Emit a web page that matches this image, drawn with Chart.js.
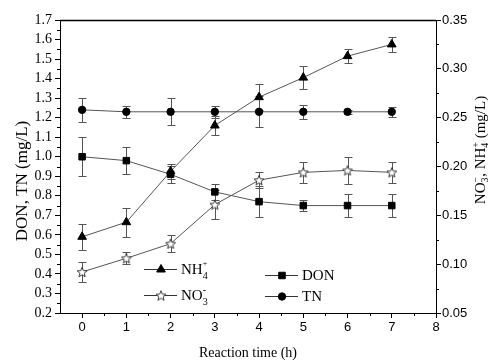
<!DOCTYPE html>
<html>
<head>
<meta charset="utf-8">
<script src="https://cdn.jsdelivr.net/npm/chart.js@4.4.0/dist/chart.umd.min.js"></script>
<style>
  html, body { margin: 0; padding: 0; background: #fff; }
  #wrap { width: 499px; height: 360px; }
</style>
</head>
<body>
<div id="wrap"><canvas id="chart" width="499" height="360"></canvas></div>
<script>
// ---- data ----
const timeH = [0, 1, 2, 3, 4, 5, 6, 7];

const tnValues  = [1.24, 1.23, 1.23, 1.23, 1.23, 1.23, 1.23, 1.23];
const tnErrors  = [0.06, 0.03, 0.07, 0.03, 0.08, 0.035, 0.01, 0.025];
const donValues = [1.00, 0.98, 0.91, 0.82, 0.77, 0.75, 0.75, 0.75];
const donErrors = [0.10, 0.068, 0.045, 0.04, 0.08, 0.03, 0.06, 0.06];
const nh4Values = [0.128, 0.143, 0.195, 0.242, 0.271, 0.291, 0.313, 0.325];
const nh4Errors = [0.013, 0.015, 0.008, 0.010, 0.0135, 0.012, 0.007, 0.008];
const no3Values = [0.092, 0.106, 0.121, 0.161, 0.186, 0.194, 0.196, 0.194];
const no3Errors = [0.010, 0.006, 0.009, 0.015, 0.0085, 0.011, 0.014, 0.011];

const xTicks     = [0, 1, 2, 3, 4, 5, 6, 7, 8];
const leftTicks  = [0.2, 0.3, 0.4, 0.5, 0.6, 0.7, 0.8, 0.9, 1.0, 1.1, 1.2, 1.3, 1.4, 1.5, 1.6, 1.7];
const rightTicks = [0.05, 0.10, 0.15, 0.20, 0.25, 0.30, 0.35];

const SERIF = '"Liberation Serif", "DejaVu Serif", serif';
const SANS = '"Liberation Sans", Arial, sans-serif';

// open star marker (no 5-point star in Chart.js)
function makeStar(r, inner) {
  const c = document.createElement('canvas');
  const s = Math.ceil(r * 2 + 3);
  c.width = s; c.height = s;
  const g = c.getContext('2d');
  g.translate(s / 2, s / 2 + 0.5);
  g.beginPath();
  for (let i = 0; i < 10; i++) {
    const rad = i % 2 ? inner : r;
    const a = -Math.PI / 2 + i * Math.PI / 5;
    const px = Math.cos(a) * rad, py = Math.sin(a) * rad;
    if (i === 0) g.moveTo(px, py); else g.lineTo(px, py);
  }
  g.closePath();
  g.fillStyle = '#fff';
  g.fill();
  g.strokeStyle = '#222';
  g.lineWidth = 0.9;
  g.stroke();
  return c;
}
const starImg = makeStar(5.2, 2.3);

function pts(vals) {
  return timeH.map((t, i) => ({ x: t, y: vals[i] }));
}

function series(label, vals, errs, axis, style, radius) {
  return {
    label: label,
    data: pts(vals),
    errors: errs,
    yAxisID: axis,
    borderColor: '#555',
    borderWidth: 1,
    pointStyle: style,
    pointRadius: radius,
    pointBackgroundColor: '#000',
    pointBorderColor: '#000',
    pointBorderWidth: 1,
    tension: 0
  };
}

// draws text with sub/superscripts; parts: {t, size, dy, stay}
function drawRich(ctx, parts, x, y) {
  let cx = x;
  parts.forEach(p => {
    ctx.font = p.size + 'px ' + SERIF;
    ctx.fillText(p.t, cx, y + (p.dy || 0));
    const w = ctx.measureText(p.t).width;
    if (!p.stay) cx += w;
  });
  return cx - x;
}

function richWidth(ctx, parts) {
  let w = 0;
  parts.forEach(p => {
    ctx.font = p.size + 'px ' + SERIF;
    if (!p.stay) w += ctx.measureText(p.t).width;
  });
  return w;
}

const errorBars = {
  id: 'errorBars',
  beforeDatasetsDraw(chart) {
    const ctx = chart.ctx;
    ctx.save();
    ctx.strokeStyle = '#555';
    ctx.lineWidth = 1;
    chart.data.datasets.forEach(ds => {
      const ys = chart.scales[ds.yAxisID];
      const xs = chart.scales.x;
      ds.data.forEach((p, i) => {
        const e = ds.errors[i];
        const px = Math.round(xs.getPixelForValue(p.x)) + 0.5;
        const y1 = Math.round(ys.getPixelForValue(p.y + e)) + 0.5;
        const y2 = Math.round(ys.getPixelForValue(p.y - e)) + 0.5;
        ctx.beginPath();
        ctx.moveTo(px, y1); ctx.lineTo(px, y2);
        ctx.moveTo(px - 4, y1); ctx.lineTo(px + 4, y1);
        ctx.moveTo(px - 4, y2); ctx.lineTo(px + 4, y2);
        ctx.stroke();
      });
    });
    ctx.restore();
  }
};

const frameAndLabels = {
  id: 'frameAndLabels',
  afterDraw(chart) {
    const ctx = chart.ctx;
    const a = chart.chartArea;
    const xs = chart.scales.x, yl = chart.scales.yL, yr = chart.scales.yR;
    ctx.save();
    ctx.strokeStyle = '#000';
    ctx.fillStyle = '#000';

    // top frame line
    ctx.lineWidth = 1.5;
    ctx.beginPath();
    ctx.moveTo(a.left, a.top + 0.5); ctx.lineTo(a.right, a.top + 0.5);
    ctx.stroke();

    // minor ticks
    ctx.lineWidth = 1;
    ctx.beginPath();
    for (let i = 0; i < leftTicks.length - 1; i++) {
      const y = Math.round(yl.getPixelForValue((leftTicks[i] + leftTicks[i + 1]) / 2)) + 0.5;
      ctx.moveTo(a.left - 3, y); ctx.lineTo(a.left, y);
    }
    for (let i = 0; i < rightTicks.length - 1; i++) {
      const y = Math.round(yr.getPixelForValue((rightTicks[i] + rightTicks[i + 1]) / 2)) + 0.5;
      ctx.moveTo(a.right, y); ctx.lineTo(a.right + 3, y);
    }
    for (let i = 0; i < xTicks.length - 1; i++) {
      const x = Math.round(xs.getPixelForValue((xTicks[i] + xTicks[i + 1]) / 2)) + 0.5;
      ctx.moveTo(x, a.bottom); ctx.lineTo(x, a.bottom + 3);
    }
    ctx.stroke();

    // axis titles
    ctx.textBaseline = 'middle';
    ctx.textAlign = 'center';
    ctx.font = '14px ' + SERIF;
    ctx.fillText('Reaction time (h)', (a.left + a.right) / 2, 353);

    ctx.save();
    ctx.translate(23, 181);
    ctx.rotate(-Math.PI / 2);
    ctx.font = '17px ' + SERIF;
    ctx.fillText('DON, TN (mg/L)', 0, 0);
    ctx.restore();

    const rightTitle = [
      { t: 'NO', size: 15 }, { t: '3', size: 10, dy: 4, stay: true }, { t: '\u2212', size: 10, dy: -5 },
      { t: ', NH', size: 15 }, { t: '4', size: 10, dy: 4, stay: true }, { t: '+', size: 10, dy: -5 },
      { t: ' (mg/L)', size: 15 }
    ];
    ctx.save();
    ctx.translate(481, 150);
    ctx.rotate(-Math.PI / 2);
    ctx.textAlign = 'left';
    const rw = richWidth(ctx, rightTitle);
    drawRich(ctx, rightTitle, -rw / 2, 0);
    ctx.restore();

    // legend
    const legend = [
      { x: 144, y: 269, style: 'triangle', r: 5, parts: [{ t: 'NH', size: 15 }, { t: '4', size: 10, dy: 6, stay: true }, { t: '+', size: 8, dy: -6 }] },
      { x: 144, y: 295, style: 'star', r: 5, parts: [{ t: 'NO', size: 15 }, { t: '3', size: 10, dy: 6, stay: true }, { t: '-', size: 10, dy: -6 }] },
      { x: 265, y: 275, style: 'rect', r: 4.6, parts: [{ t: 'DON', size: 15 }] },
      { x: 265, y: 296, style: 'circle', r: 3.7, parts: [{ t: 'TN', size: 15 }] }
    ];
    ctx.textAlign = 'left';
    legend.forEach(l => {
      ctx.strokeStyle = '#333';
      ctx.lineWidth = 1;
      ctx.beginPath();
      ctx.moveTo(l.x, l.y + 0.5); ctx.lineTo(l.x + 33, l.y + 0.5);
      ctx.stroke();
      ctx.fillStyle = '#000';
      ctx.strokeStyle = '#000';
      Chart.helpers.drawPoint(ctx, {
        pointStyle: l.style === 'star' ? starImg : l.style,
        radius: l.r, rotation: 0, borderWidth: 1
      }, l.x + 17, l.y + 0.5);
      ctx.fillStyle = '#000';
      drawRich(ctx, l.parts, l.x + 37, l.y + 1);
    });
    ctx.restore();
  }
};

new Chart(document.getElementById('chart'), {
  type: 'line',
  data: {
    datasets: [
      series('TN', tnValues, tnErrors, 'yL', 'circle', 3.7),
      series('DON', donValues, donErrors, 'yL', 'rect', 4.6),
      series('NH4+', nh4Values, nh4Errors, 'yR', 'triangle', 5),
      series('NO3-', no3Values, no3Errors, 'yR', starImg, 5)
    ]
  },
  options: {
    responsive: false,
    devicePixelRatio: 1,
    animation: false,
    layout: { padding: { top: 20, left: 0, right: 0, bottom: 0 } },
    plugins: { legend: { display: false }, tooltip: { enabled: false } },
    scales: {
      x: {
        type: 'linear',
        min: -0.5,
        max: 8,
        afterBuildTicks: s => { s.ticks = xTicks.map(v => ({ value: v })); },
        afterFit: s => { s.height = 47; },
        grid: { drawOnChartArea: false, tickLength: 5, color: '#000' },
        border: { color: '#000', width: 1 },
        ticks: { color: '#000', padding: 2, autoSkip: false, maxRotation: 0, font: { family: SANS, size: 13 }, callback: v => String(v) }
      },
      yL: {
        type: 'linear',
        position: 'left',
        min: 0.2,
        max: 1.7,
        afterBuildTicks: s => { s.ticks = leftTicks.map(v => ({ value: v })); },
        afterFit: s => { s.width = 60; },
        grid: { drawOnChartArea: false, tickLength: 5, color: '#000' },
        border: { color: '#000', width: 1 },
        ticks: { color: '#000', padding: 3, autoSkip: false, font: { family: SERIF, size: 14 }, callback: v => Number(v).toFixed(1) }
      },
      yR: {
        type: 'linear',
        position: 'right',
        min: 0.05,
        max: 0.35,
        afterBuildTicks: s => { s.ticks = rightTicks.map(v => ({ value: v })); },
        afterFit: s => { s.width = 63; },
        grid: { drawOnChartArea: false, tickLength: 5, color: '#000' },
        border: { color: '#000', width: 1 },
        ticks: { color: '#000', padding: 1, autoSkip: false, font: { family: SANS, size: 13 }, callback: v => Number(v).toFixed(2) }
      }
    }
  },
  plugins: [errorBars, frameAndLabels]
});
</script>
</body>
</html>
